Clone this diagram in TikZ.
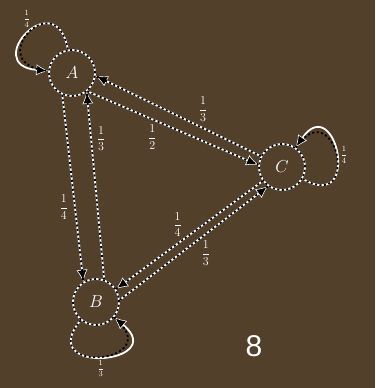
\documentclass[tikz,border=0pt]{standalone}
\usepackage{fontspec}
\usepackage{amsmath}
\usepackage{tikz}
\usetikzlibrary{arrows.meta, positioning}
\definecolor{bgbrown}{RGB}{82,64,42}
\newfontfamily\digitfont{Liberation Sans}

\begin{document}
\begin{tikzpicture}[
    x=1pt, y=-1pt,
    state/.style={circle, draw=white, line width=1.8pt, minimum size=46pt, inner sep=0pt, font=\LARGE,
      text=white, postaction={draw=black, dash pattern=on 2pt off 2.5pt, line width=1.8pt}},
    edge/.style={draw=white, line width=1.8pt, -{Latex[length=12pt, width=11pt, fill=black, line width=0.6pt]},
      postaction={draw=black, dash pattern=on 2pt off 2.5pt, line width=1.8pt, -}},
    lbl/.style={text=white, font=\large, inner sep=1pt},
    looplbl/.style={text=white, font=\footnotesize, inner sep=1pt}
  ]
    \fill[bgbrown] (0,0) rectangle (375,388);
    \useasboundingbox (0,0) rectangle (375,388);
    \node[state] (A) at (72,73) {$A$};
    \node[state] (C) at (282,167) {$C$};
    \node[state] (B) at (96,302) {$B$};
    \draw[edge] (C.153) -- node[lbl, above=5pt, pos=0.35] {$\dfrac{1}{3}$} (A.-7);
    \draw[edge] (A.-50) -- node[lbl, below=4pt, pos=0.38] {$\dfrac{1}{2}$} (C.175);
    \draw[edge] (A.-114) -- node[lbl, left=5pt, pos=0.6] {$\dfrac{1}{4}$} (B.122);
    \draw[edge] (B.70) -- node[lbl, right=4pt, pos=0.75] {$\dfrac{1}{3}$} (A.-52);
    \draw[edge] (C.-144) -- node[lbl, above=5pt, pos=0.58] {$\dfrac{1}{4}$} (B.33);
    \draw[edge] (B.5) -- node[lbl, below=5pt, pos=0.58] {$\dfrac{1}{3}$} (C.-126);
    \draw[edge] (A.100) to[out=100, in=175, looseness=6] node[looplbl, pos=0.45, above left=0pt] {$\dfrac{1}{4}$} (A.175);
    \draw[edge] (C.-30) to[out=-30, in=55, looseness=5.5] node[looplbl, pos=0.5, right=2pt] {$\dfrac{1}{4}$} (C.55);
    \draw[edge] (B.-130) to[out=-130, in=-40, looseness=5.5] node[looplbl, pos=0.5, below=1pt] {$\dfrac{1}{3}$} (B.-40);
    \node[text=white, font=\digitfont\fontsize{30}{30}\selectfont] (num) at (254,346) {8};
\end{tikzpicture}
\end{document}
